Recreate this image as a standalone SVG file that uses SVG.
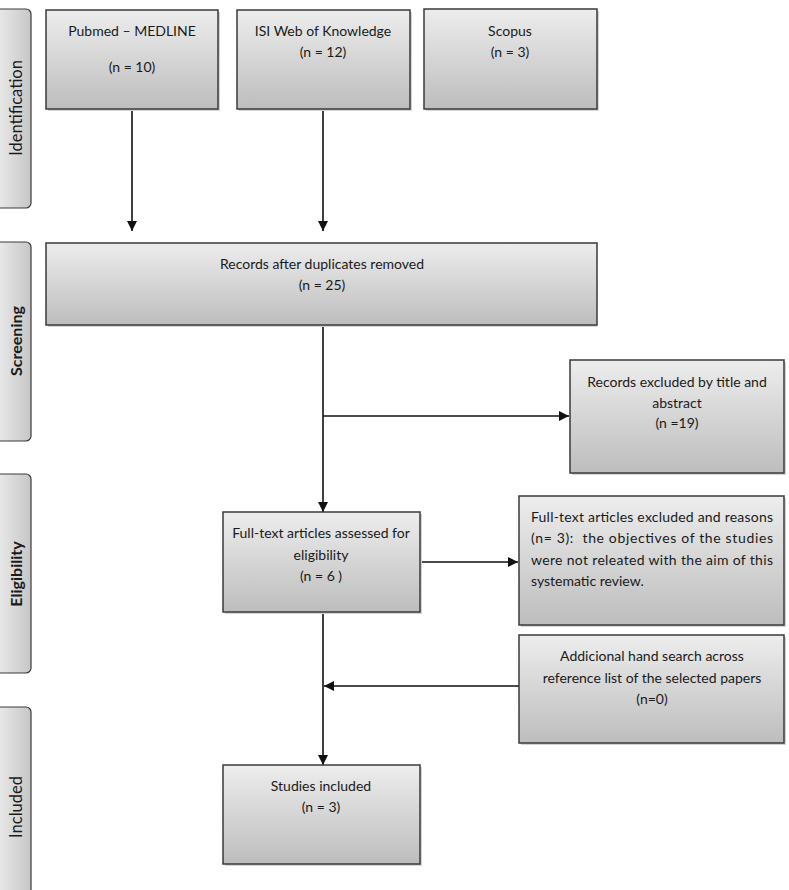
<svg xmlns="http://www.w3.org/2000/svg" width="789" height="890" viewBox="0 0 789 890">
<style>
.box{fill:url(#g);stroke:#3a3a3a;stroke-width:1.5}
.sh{fill:#d4d4d4}
.bar{fill:url(#gh);stroke:#3a3a3a;stroke-width:1.2}
.t{font-family:Lato,"Open Sans","Liberation Sans",sans-serif;font-size:14px;fill:#1a1a1a;text-anchor:middle}
.tj{font-family:Lato,"Open Sans","Liberation Sans",sans-serif;font-size:14px;fill:#1a1a1a;white-space:pre}
.lab{font-family:Lato,"Open Sans","Liberation Sans",sans-serif;font-size:16.5px;fill:#1a1a1a;text-anchor:middle}
.b{font-weight:bold;font-size:16px}
.c{stroke:#111;stroke-width:1.6;fill:none}
</style>
<defs>
<linearGradient id="g" x1="0" y1="0" x2="0" y2="1">
<stop offset="0" stop-color="#ededed"/>
<stop offset="1" stop-color="#bdbdbd"/>
</linearGradient>
<linearGradient id="gh" x1="0" y1="0" x2="1" y2="0">
<stop offset="0" stop-color="#f2f2f2"/>
<stop offset="1" stop-color="#c6c6c6"/>
</linearGradient>
<marker id="a" viewBox="0 0 10 10" refX="10" refY="5" markerWidth="10" markerHeight="10" markerUnits="userSpaceOnUse" orient="auto">
<path d="M0,0 L10,5 L0,10 z" fill="#111"/>
</marker>
</defs>
<rect width="789" height="890" fill="#fff"/>

<g id="phase-identification">
<rect class="bar" x="-10" y="9" width="41" height="199" rx="5"/>
<text class="lab" transform="translate(22,108) rotate(-90)">Identification</text>
</g>
<g id="phase-screening">
<rect class="bar" x="-10" y="242" width="41" height="199" rx="5"/>
<text class="lab b" transform="translate(22,341) rotate(-90)">Screening</text>
</g>
<g id="phase-eligibility">
<rect class="bar" x="-10" y="474" width="41" height="199" rx="5"/>
<text class="lab b" transform="translate(22,574) rotate(-90)">Eligibility</text>
</g>
<g id="phase-included">
<rect class="bar" x="-10" y="707" width="41" height="200" rx="5"/>
<text class="lab" transform="translate(22,807) rotate(-90)">Included</text>
</g>

<g id="connectors">
<line class="c" x1="132" y1="109" x2="132" y2="231" marker-end="url(#a)"/>
<line class="c" x1="323" y1="109" x2="323" y2="231" marker-end="url(#a)"/>
<line class="c" x1="323" y1="325" x2="323" y2="512" marker-end="url(#a)"/>
<line class="c" x1="323" y1="416" x2="569" y2="416" marker-end="url(#a)"/>
<line class="c" x1="420" y1="562" x2="518" y2="562" marker-end="url(#a)"/>
<line class="c" x1="323" y1="612" x2="323" y2="765" marker-end="url(#a)"/>
<line class="c" x1="519" y1="686" x2="324" y2="686" marker-end="url(#a)"/>
</g>

<g id="pubmed">
<rect class="sh" x="48" y="12" width="172" height="99"/>
<rect class="box" x="46" y="10" width="172" height="99"/>
<text class="t" x="132" y="36">Pubmed – MEDLINE</text>
<text class="t" x="132" y="72">(n = 10)</text>
</g>
<g id="isi">
<rect class="sh" x="239" y="12" width="173" height="99"/>
<rect class="box" x="237" y="10" width="173" height="99"/>
<text class="t" x="323" y="36">ISI Web of Knowledge</text>
<text class="t" x="323" y="57">(n = 12)</text>
</g>
<g id="scopus">
<rect class="sh" x="426" y="11" width="173" height="100"/>
<rect class="box" x="424" y="9" width="173" height="100"/>
<text class="t" x="510" y="36">Scopus</text>
<text class="t" x="510" y="57">(n = 3)</text>
</g>
<g id="records">
<rect class="sh" x="48" y="245" width="549" height="82"/>
<rect class="box" x="46" y="243" width="551" height="82"/>
<text class="t" x="322" y="269">Records after duplicates removed</text>
<text class="t" x="322" y="290">(n = 25)</text>
</g>
<g id="excluded-title">
<rect class="sh" x="572" y="362" width="214" height="113"/>
<rect class="box" x="570" y="360" width="214" height="113"/>
<text class="t" x="677" y="387">Records excluded by title and</text>
<text class="t" x="677" y="408">abstract</text>
<text class="t" x="677" y="428">(n =19)</text>
</g>
<g id="fulltext-assessed">
<rect class="sh" x="225" y="514" width="197" height="100"/>
<rect class="box" x="223" y="512" width="197" height="100"/>
<text class="t" x="321" y="538">Full-text articles assessed for</text>
<text class="t" x="321" y="560">eligibility</text>
<text class="t" x="321" y="581">(n = 6 )</text>
</g>
<g id="fulltext-excluded">
<rect class="sh" x="521" y="498" width="265" height="129"/>
<rect class="box" x="519" y="496" width="265" height="129"/>
<text class="tj" x="531" y="522" textLength="242" lengthAdjust="spacing">Full-text articles excluded and reasons</text>
<text class="tj" x="531" y="543" textLength="242" lengthAdjust="spacing">(n= 3):  the objectives of the studies</text>
<text class="tj" x="531" y="565" textLength="242" lengthAdjust="spacing">were not releated with the aim of this</text>
<text class="tj" x="531" y="586">systematic review.</text>
</g>
<g id="hand-search">
<rect class="sh" x="521" y="637" width="265" height="108"/>
<rect class="box" x="519" y="635" width="265" height="108"/>
<text class="t" x="652" y="661">Addicional hand search across</text>
<text class="t" x="652" y="683">reference list of the selected papers</text>
<text class="t" x="652" y="704">(n=0)</text>
</g>
<g id="included">
<rect class="sh" x="225" y="767" width="197" height="99"/>
<rect class="box" x="223" y="765" width="197" height="99"/>
<text class="t" x="321" y="791">Studies included</text>
<text class="t" x="321" y="812">(n = 3)</text>
</g>
</svg>
